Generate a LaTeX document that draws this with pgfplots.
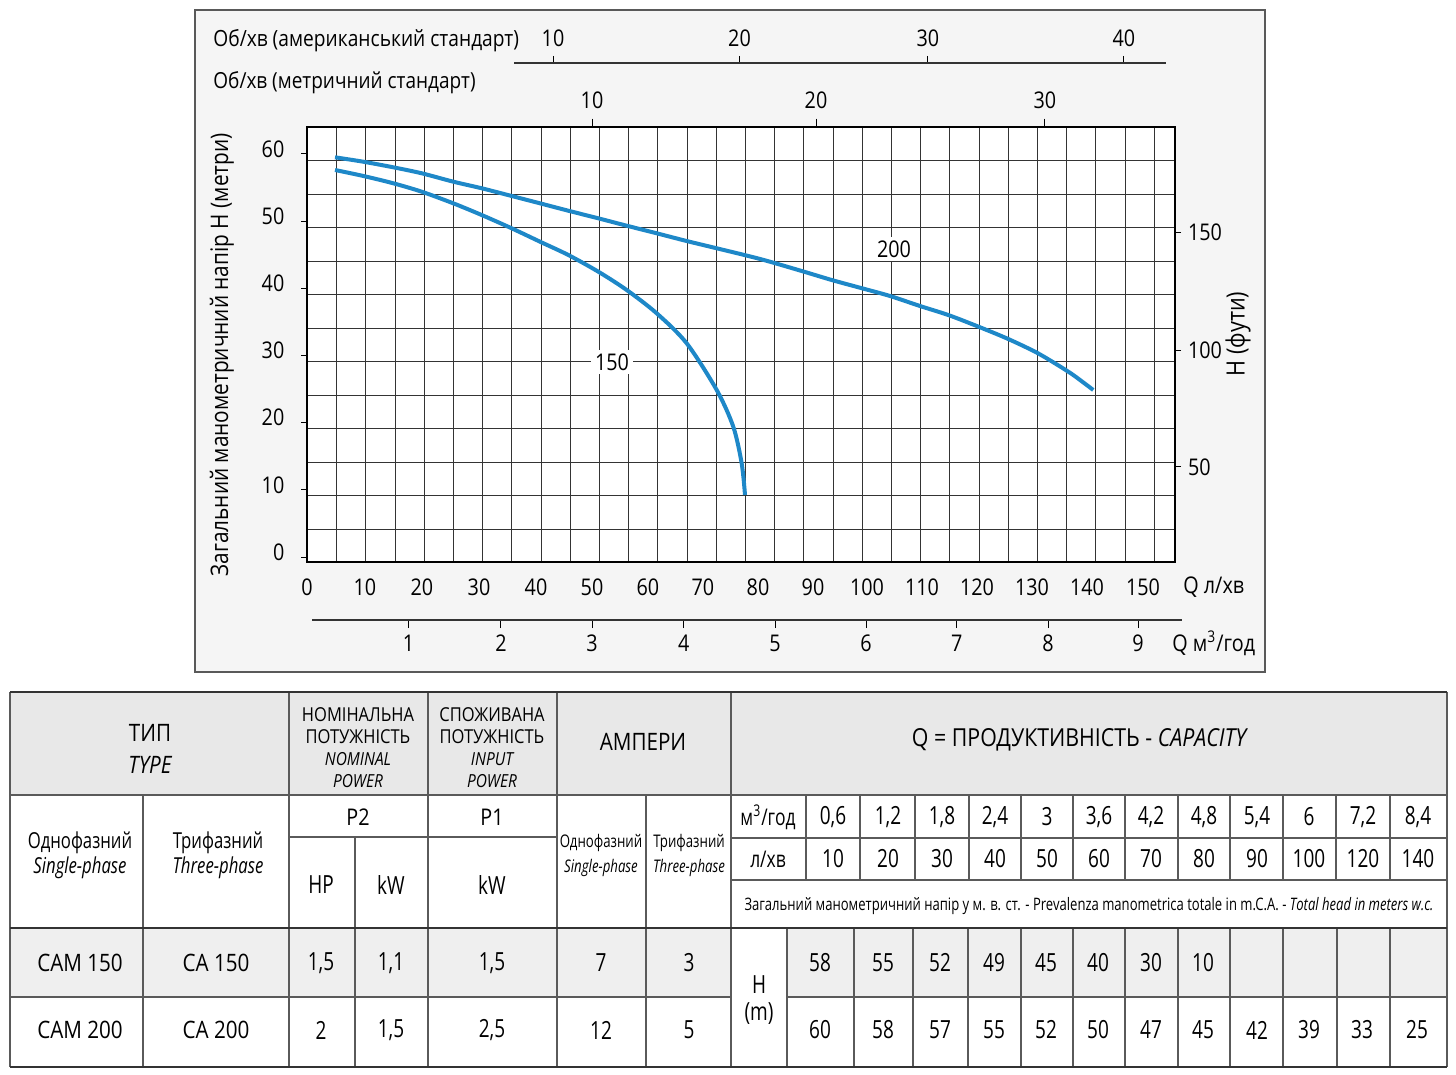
\documentclass[border=0pt]{standalone}
\usepackage{pgfplots}
\pgfplotsset{compat=1.18}
\usepackage{fontspec}
\setmainfont{Open Sans}[FakeStretch=0.86]
\newfontfamily\cond{Open Sans}[FakeStretch=0.76]
\definecolor{curve}{RGB}{30,136,200}
\definecolor{gridc}{RGB}{52,52,52}
\definecolor{hdr}{RGB}{232,232,232}
\definecolor{rowa}{RGB}{239,239,239}
\definecolor{boxbg}{RGB}{245,245,245}
\definecolor{tline}{RGB}{90,90,90}
\newcommand{\fs}[1]{\fontsize{#1}{#1}\selectfont}
\pgfplotsset{
  base/.style={
    at={(153.5pt,-281pt)}, anchor=south west,
    scale only axis, width=434pt, height=217.5pt,
    xmin=-0.72, xmax=155.4, ymin=-0.744, ymax=63.988,
    tick label style={font=\fs{11.5}},
    /pgf/number format/assume math mode=true,
    axis line style={-, line width=1.1pt, black},
  }
}
\begin{document}
\begin{tikzpicture}
\begin{scope}[x=0.5pt,y=-0.5pt]
\path[use as bounding box, fill=white] (0,0) rectangle (1456,1075);
\draw[fill=boxbg, draw=black!65, line width=0.7pt] (195,10) rectangle (1265,672);
\end{scope}

% main axis
\begin{axis}[base,
  axis background/.style={fill=white},
  xtick={-0.7,9.71,19.96,30.22,40.47,50.54,60.61,70.50,80.40,90.29,100.0,109.89,119.78,129.68,139.57,149.64},
  xticklabels={0,10,20,30,40,50,60,70,80,90,100,110,120,130,140,150},
  ytick={0,10,20,30,40,50,60},
  yticklabels={0,10,20,30,40,50,60},
  minor xtick={4.586,9.802,15.198,20.414,25.629,30.845,36.061,41.457,46.673,51.888,57.104,62.320,67.716,72.932,78.147,83.363,88.579,93.975,99.191,104.406,109.622,114.838,120.234,125.450,130.665,135.881,141.097,146.493,151.709},
  minor ytick={4.092,9.152,14.063,19.122,24.033,29.092,34.003,39.063,43.973,49.033,53.943,59.003},
  grid=minor,
  minor grid style={gridc, line width=0.68pt},
  xtick pos=bottom, ytick pos=left,
  tick align=outside,
  xtick style={draw=none},
  ytick style={black, line width=0.5pt},
  major tick length=2.8pt,
  minor tick length=0pt,
  xticklabel style={yshift=-2pt},
  yticklabel style={xshift=-5pt, yshift=2.5pt},
]
\addplot[curve, line width=2pt, smooth] coordinates {
(4.32,59.48)(9.41,58.82)(14.80,57.99)(19.91,57.10)(25.59,55.85)(30.70,54.87)
(36.10,53.72)(41.19,52.63)(46.28,51.53)(51.67,50.40)(56.78,49.30)(62.18,48.17)
(67.57,47.02)(72.97,45.94)(80.76,44.35)(88.25,42.56)(93.65,41.22)(98.74,40.07)
(104.14,38.84)(109.53,37.35)(114.62,36.01)(119.73,34.38)(125.13,32.54)(130.22,30.55)
(133.81,28.82)(137.10,27.08)(140.70,24.85)};
\addplot[curve, line width=2pt, smooth] coordinates {
(4.32,57.59)(9.41,56.70)(14.80,55.61)(19.91,54.36)(25.59,52.63)(30.70,50.89)
(36.10,48.91)(41.19,46.92)(46.28,44.94)(51.67,42.46)(56.78,39.73)(62.18,36.26)
(67.57,31.80)(72.97,24.85)(75.95,19.39)(77.46,13.94)(78.06,9.23)};
\node[fill=white, inner sep=2pt, font=\fs{11.5}] at (axis cs:54.14,29.02) {150};
\node[fill=white, inner sep=2pt, font=\fs{11.5}] at (axis cs:104.86,45.83) {200};
\end{axis}

% right axis (feet)
\begin{axis}[base, axis x line=none, axis y line*=right,
  ytick={13.4,30.8,48.26}, yticklabels={50,100,150},
  tick align=outside, major tick length=3pt,
  ytick style={black, line width=0.5pt},
]
\end{axis}

% top metric axis
\begin{axis}[base, axis y line=none, axis x line*=top,
  xtick={50.54,90.83,132.01}, xticklabels={10,20,30},
  tick align=outside, major tick length=4.2pt,
  xtick style={black, line width=0.5pt},
  xticklabel style={yshift=1.5pt},
]
\end{axis}

% American rpm axis
\begin{axis}[at={(257pt,-31.5pt)}, anchor=north west, scale only axis, width=326pt, height=2pt,
  xmin=36.51, xmax=153.78, ymin=0, ymax=1,
  axis y line=none, axis x line*=top,
  xtick={43.53,77.07,110.97,146.22}, xticklabels={10,20,30,40},
  tick align=outside, major tick length=3.5pt,
  axis line style={-, line width=0.8pt, black!80},
  xtick style={black, line width=0.5pt},
  tick label style={font=\fs{11.5}},
  xticklabel style={yshift=1pt},
]
\end{axis}

% m3/h axis
\begin{axis}[at={(156pt,-310pt)}, anchor=south west, scale only axis, width=435pt, height=2pt,
  xmin=0.18, xmax=156.65, ymin=0, ymax=1,
  axis y line=none, axis x line*=bottom,
  xtick={17.54,34.17,50.54,67.03,83.45,99.82,116.13,132.55,148.74},
  xticklabels={1,2,3,4,5,6,7,8,9},
  tick align=outside, major tick length=4pt,
  axis line style={-, line width=0.8pt, black!80},
  xtick style={black, line width=0.5pt},
  tick label style={font=\fs{11.5}},
]
\end{axis}

\begin{scope}[x=0.5pt,y=-0.5pt]
% chart texts
\node[anchor=west, inner sep=0, font=\fs{11.15}] at (213,41) {Об/хв (американський стандарт)};
\node[anchor=west, inner sep=0, font=\fs{11.05}] at (213,83) {Об/хв (метричний стандарт)};
\node[rotate=90, inner sep=0, font=\fs{12.1}] at (222,355) {Загальний манометричний напір H (метри)};
\node[rotate=90, inner sep=0, font=\fs{12.6}] at (1238,334) {H (фути)};
\node[anchor=west, inner sep=0, font=\fs{11.5}] at (1183,587) {Q л/хв};
\node[anchor=west, inner sep=0, font=\fs{11.5}] at (1172,643) {Q м\textsuperscript{3}/год};

% table fills
\fill[hdr] (10,692) rectangle (1447,795);
\fill[rowa] (10,928) rectangle (731,997);
\fill[rowa] (787,928) rectangle (1447,997);
\begin{scope}[color=tline, line width=0.6pt]
\draw (10,795) -- (1447,795);
\draw (289,837) -- (557,837);
\draw (731,838) -- (1447,838);
\draw (731,880) -- (1447,880);
\draw (10,997) -- (731,997);
\draw (787,997) -- (1447,997);
\draw (10,692) -- (10,1067);
\draw (1447,692) -- (1447,1067);
\draw (143,795) -- (143,1067);
\draw (289,692) -- (289,1067);
\draw (355,837) -- (355,1067);
\draw (428,692) -- (428,1067);
\draw (557,692) -- (557,1067);
\draw (646,795) -- (646,1067);
\draw (731,692) -- (731,1067);
\foreach \x in {806,860,915,969,1021,1073,1125,1178,1230,1283,1336,1390} \draw (\x,795) -- (\x,880);
\foreach \x in {787,854,913,968,1021,1073,1125,1178,1230,1283,1337,1390} \draw (\x,928) -- (\x,1067);
\end{scope}
\draw[black!80, line width=1.1pt] (10,692) -- (1447,692);
\draw[black!80, line width=1.1pt] (10,928) -- (1447,928);
\draw[black!80, line width=1.1pt] (10,1067) -- (1447,1067);

% header texts
\node[font=\fs{12}] at (150,733) {ТИП};
\node[font=\fs{12}\itshape] at (150,765) {TYPE};
\node[font=\fs{9.6}] at (358,715) {НОМІНАЛЬНА};
\node[font=\fs{9.6}] at (358,737) {ПОТУЖНІСТЬ};
\node[font=\fs{9}\itshape] at (358,759) {NOMINAL};
\node[font=\fs{9}\itshape] at (358,781) {POWER};
\node[font=\fs{9.6}] at (492,715) {СПОЖИВАНА};
\node[font=\fs{9.6}] at (492,737) {ПОТУЖНІСТЬ};
\node[font=\fs{9}\itshape] at (492,759) {INPUT};
\node[font=\fs{9}\itshape] at (492,781) {POWER};
\node[font=\fs{12}] at (643,742) {АМПЕРИ};
\node[font=\fs{12.4}] at (1080,740) {Q = ПРОДУКТИВНІСТЬ - \textit{CAPACITY}};

% second block
\node[font=\cond\fs{11}] at (80,843) {Однофазний};
\node[font=\cond\fs{11}\itshape] at (80,868) {Single-phase};
\node[font=\cond\fs{11}] at (218,843) {Трифазний};
\node[font=\cond\fs{11}\itshape] at (218,868) {Three-phase};
\node[font=\fs{11.5}] at (358,817) {P2};
\node[font=\fs{11.5}] at (492,817) {P1};
\node[font=\cond\fs{12.5}] at (321,885) {HP};
\node[font=\cond\fs{12.5}] at (391,885) {kW};
\node[font=\cond\fs{12.5}] at (492,885) {kW};
\node[font=\cond\fs{8.7}] at (601,843) {Однофазний};
\node[font=\cond\fs{8.7}\itshape] at (601,868) {Single-phase};
\node[font=\cond\fs{8.7}] at (689,843) {Трифазний};
\node[font=\cond\fs{8.7}\itshape] at (689,868) {Three-phase};
\node[font=\cond\fs{11.5}] at (768,817) {м\textsuperscript{3}/год};
\node[font=\cond\fs{11.5}] at (768,859) {л/хв};
\foreach \x/\v in {833/{0,6},888/{1,2},942/{1,8},995/{2,4},1047/3,1099/{3,6},1151/{4,2},1204/{4,8},1257/{5,4},1309/6,1363/{7,2},1418/{8,4}}
  \node[font=\cond\fs{12.5}] at (\x,817) {\v};
\foreach \x/\v in {833/10,888/20,942/30,995/40,1047/50,1099/60,1151/70,1204/80,1257/90,1309/100,1363/120,1418/140}
  \node[font=\cond\fs{12.5}] at (\x,859) {\v};
\node[font=\cond\fs{8.6}] at (1089,906) {Загальний манометричний напір у м. в. ст. - Prevalenza manometrica totale in m.C.A. - \textit{Total head in meters w.c.}};

% rows
\node[font=\fs{12}] at (80,963) {CAM 150};
\node[font=\fs{12}] at (216,963) {CA 150};
\node[font=\fs{12}] at (80,1030) {CAM 200};
\node[font=\fs{12}] at (216,1030) {CA 200};
\foreach \x/\v in {321/{1,5},391/{1,1},492/{1,5},601/7,689/3}
  \node[font=\cond\fs{12.5}] at (\x,963) {\v};
\foreach \x/\v in {321/2,391/{1,5},492/{2,5},601/12,689/5}
  \node[font=\cond\fs{12.5}] at (\x,1030) {\v};
\node[font=\cond\fs{12.5}] at (759,985) {H};
\node[font=\cond\fs{12.5}] at (759,1014) {(m)};
\foreach \x/\v in {820/58,883/55,940/52,994/49,1046/45,1098/40,1151/30,1203/10}
  \node[font=\cond\fs{12.5}] at (\x,963) {\v};
\foreach \x/\v in {820/60,883/58,940/57,994/55,1046/52,1098/50,1151/47,1203/45,1257/42,1309/39,1362/33,1417/25}
  \node[font=\cond\fs{12.5}] at (\x,1030) {\v};
\end{scope}
\end{tikzpicture}
\end{document}
